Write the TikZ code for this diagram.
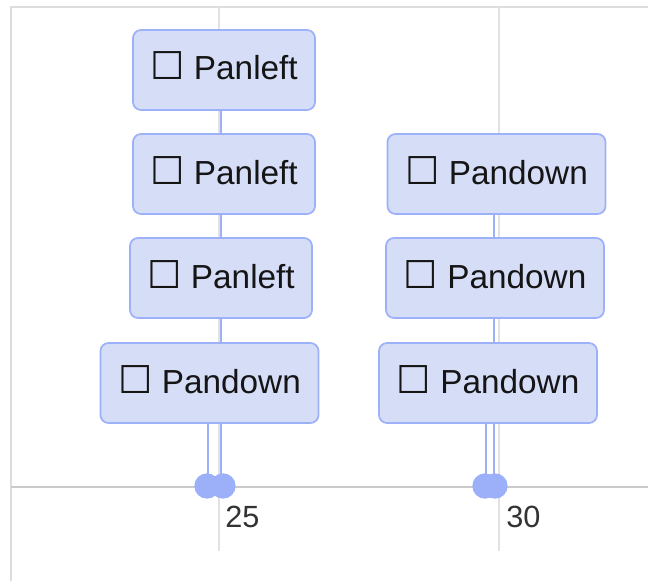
\documentclass[tikz,border=0pt]{standalone}
\usepackage{fontspec}
\setmainfont{Liberation Sans}
\newfontfamily\symfont{DejaVu Sans}
\definecolor{boxfill}{HTML}{D6DDF7}
\definecolor{boxline}{HTML}{9DB1F9}
\definecolor{dotcol}{HTML}{9CB0FA}
\definecolor{txtcol}{HTML}{151515}
\definecolor{gridcol}{HTML}{E2E2E2}
\definecolor{axiscol}{HTML}{CACACA}
\definecolor{framecol}{HTML}{DDDDDD}
\newcommand{\chk}{\scalebox{1.15}{\symfont\char"2610}\hspace{7pt}}
\begin{document}
\begin{tikzpicture}[x=0.75pt,y=-0.75pt,
  item/.style={draw=boxline, fill=boxfill, line width=1.3pt, rounded corners=6pt,
    minimum height=60pt, inner sep=0pt, text=txtcol, text height=15pt, text depth=0pt,
    font=\fontsize{25}{30}\selectfont},
  panleft/.style={item, minimum width=136.5pt},
  pandown/.style={item, minimum width=163.5pt},
  conn/.style={draw=boxline, line width=2pt},
  dotst/.style={fill=dotcol, draw=none, circle, minimum size=19pt, inner sep=0pt},
  axlabel/.style={anchor=west, text=black!80, font=\fontsize{23}{27}\selectfont, inner sep=0pt}
]
\useasboundingbox (0,0) rectangle (648,581);
% frame and grid
\draw[framecol, line width=1.2pt] (11,581) -- (11,7) -- (648,7);
\draw[gridcol, line width=1.2pt] (219,7) -- (219,551);
\draw[gridcol, line width=1.2pt] (499,7) -- (499,551);
\draw[axiscol, line width=1.5pt] (11,487) -- (648,487);
% axis anchor coordinates
\coordinate (a1) at (208,486);
\coordinate (a2) at (221,486);
\coordinate (b1) at (486,486);
\coordinate (b2) at (494,486);
% nodes
\node[panleft] (L1) at (224,70) {\chk Panleft};
\node[panleft] (L2) at (224,174) {\chk Panleft};
\node[panleft] (L3) at (221,278) {\chk Panleft};
\node[pandown] (L4) at (209.5,383) {\chk Pandown};
\node[pandown] (R1) at (496.5,174) {\chk Pandown};
\node[pandown] (R2) at (495,278) {\chk Pandown};
\node[pandown] (R3) at (488,383) {\chk Pandown};
% connectors
\draw[conn] (L1.south -| a2) -- (L2.north -| a2);
\draw[conn] (L2.south -| a2) -- (L3.north -| a2);
\draw[conn] (L3.south -| a2) -- (L4.north -| a2);
\draw[conn] (L4.south -| a1) -- (a1);
\draw[conn] (L4.south -| a2) -- (a2);
\draw[conn] (R1.south -| b2) -- (R2.north -| b2);
\draw[conn] (R2.south -| b2) -- (R3.north -| b2);
\draw[conn] (R3.south -| b1) -- (b1);
\draw[conn] (R3.south -| b2) -- (b2);
% dots
\node[dotst] (d1) at (207,486) {};
\node[dotst] (d2) at (223,486) {};
\node[dotst] (d3) at (485,486) {};
\node[dotst] (d4) at (495,486) {};
% labels
\node[axlabel] (t25) at (225,517) {25};
\node[axlabel] (t30) at (506,517) {30};
\end{tikzpicture}
\end{document}
